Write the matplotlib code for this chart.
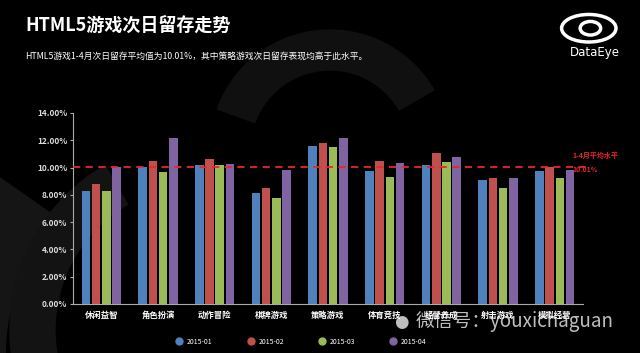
import numpy as np
import matplotlib.pyplot as plt
from matplotlib.patches import Ellipse, Circle, Wedge
from matplotlib.lines import Line2D

plt.rcParams['font.family'] = ['Noto Sans CJK SC', 'DejaVu Sans']

categories = ['休闲益智', '角色扮演', '动作冒险', '棋牌游戏', '策略游戏',
              '体育竞技', '经营养成', '射击游戏', '模拟经营']
months = ['2015-01', '2015-02', '2015-03', '2015-04']
v_jan = [8.27, 10.07, 10.20, 8.10, 11.60, 9.78, 10.20, 9.06, 9.71]
v_feb = [8.82, 10.50, 10.63, 8.50, 11.80, 10.50, 11.04, 9.23, 10.05]
v_mar = [8.27, 9.64, 10.20, 7.76, 11.50, 9.28, 10.41, 8.48, 9.23]
v_apr = [10.07, 12.17, 10.24, 9.83, 12.17, 10.31, 10.80, 9.25, 9.83]
avg_value = 10.01
colors = ['#4F81BD', '#C0504D', '#9BBB59', '#8064A2']

fig = plt.figure(figsize=(6.4, 3.53), dpi=100, facecolor='black')

# faint background eye shapes
bg = fig.add_axes([0, 0, 1, 1], zorder=0)
bg.set_xlim(0, 640)
bg.set_ylim(353, 0)
bg.axis('off')
bg.add_patch(Wedge((260, 360), 330, 100, 215, width=75, color='#151515'))
bg.add_patch(Wedge((200, 330), 190, 120, 240, width=45, color='#131313'))
bg.add_patch(Wedge((330, 150), 120, 200, 330, width=40, color='#101010'))

ax = fig.add_axes([0.114, 0.139, 0.797, 0.541], zorder=2)
ax.set_facecolor('none')

x = np.arange(len(categories))
w = 0.15
step = 0.18
series = [v_jan, v_feb, v_mar, v_apr]
for i, vals in enumerate(series):
    ax.bar(x + (i - 1.5) * step, vals, width=w, color=colors[i], zorder=3)

ax.axhline(avg_value, color='#E8262A', linestyle=(0, (4, 3)), linewidth=1.3, zorder=4,
           xmin=0, xmax=1.005, clip_on=False)

ax.set_xlim(-0.5, len(categories) - 0.5)
ax.set_ylim(0, 14)
ax.set_yticks(np.arange(0, 15, 2))
ax.set_yticklabels(['%.2f%%' % t for t in np.arange(0, 15, 2)],
                   fontsize=6, color='#dddddd', fontweight='bold')
ax.set_xticks(x)
ax.set_xticklabels(categories, fontsize=6, color='white', fontweight='bold')
ax.tick_params(axis='x', length=0, pad=5)
ax.tick_params(axis='y', length=2, color='#aaaaaa', pad=2)
for s in ['top', 'right']:
    ax.spines[s].set_visible(False)
for s in ['left', 'bottom']:
    ax.spines[s].set_color('#aaaaaa')
    ax.spines[s].set_linewidth(0.8)

# average label
fig.text(0.895, 0.553, '1-4月平均水平', color='#E8262A', fontsize=5, fontweight='bold')
fig.text(0.895, 0.512, '%.2f%%' % avg_value, color='#E8262A', fontsize=5, fontweight='bold')

# legend
handles = [Line2D([0], [0], marker='o', linestyle='none', markersize=5,
                  markerfacecolor=c, markeredgecolor=c) for c in colors]
leg = fig.legend(handles, months, loc='center', bbox_to_anchor=(0.468, 0.032), ncol=4,
                 frameon=False, fontsize=5, handletextpad=0.1, columnspacing=4.5,
                 labelcolor='white')

# titles
fig.text(0.039, 0.925, 'HTML5游戏次日留存走势', color='white', fontsize=13,
         fontweight='heavy', va='center')
fig.text(0.039, 0.838, 'HTML5游戏1-4月次日留存平均值为10.01%，其中策略游戏次日留存表现均高于此水平。',
         color='white', fontsize=6.3, va='center')

# DataEye logo
lg = fig.add_axes([0.87, 0.86, 0.1, 0.12], zorder=3)
lg.set_xlim(-1, 1)
lg.set_ylim(-1, 1)
lg.axis('off')
lg.add_patch(Ellipse((0, 0), 1.7, 1.3, fill=False, edgecolor='white', linewidth=2.5))
lg.add_patch(Circle((0.05, 0), 0.32, fill=False, edgecolor='white', linewidth=2.5))
fig.text(0.93, 0.85, 'DataEye', color='white', fontsize=8.5, ha='center', va='center',
         family=['DejaVu Sans'])

# watermark (overlaps the axis labels, as in the source image)
fig.text(0.65, 0.088, '微信号：youxichaguan', color='white', alpha=0.75, fontsize=13.5,
         fontweight='light', va='center', zorder=5)
fig.text(0.615, 0.088, '●', color='white', alpha=0.75, fontsize=12, va='center',
         family=['DejaVu Sans'])

fig.savefig('out.png', dpi=100, facecolor='black')
